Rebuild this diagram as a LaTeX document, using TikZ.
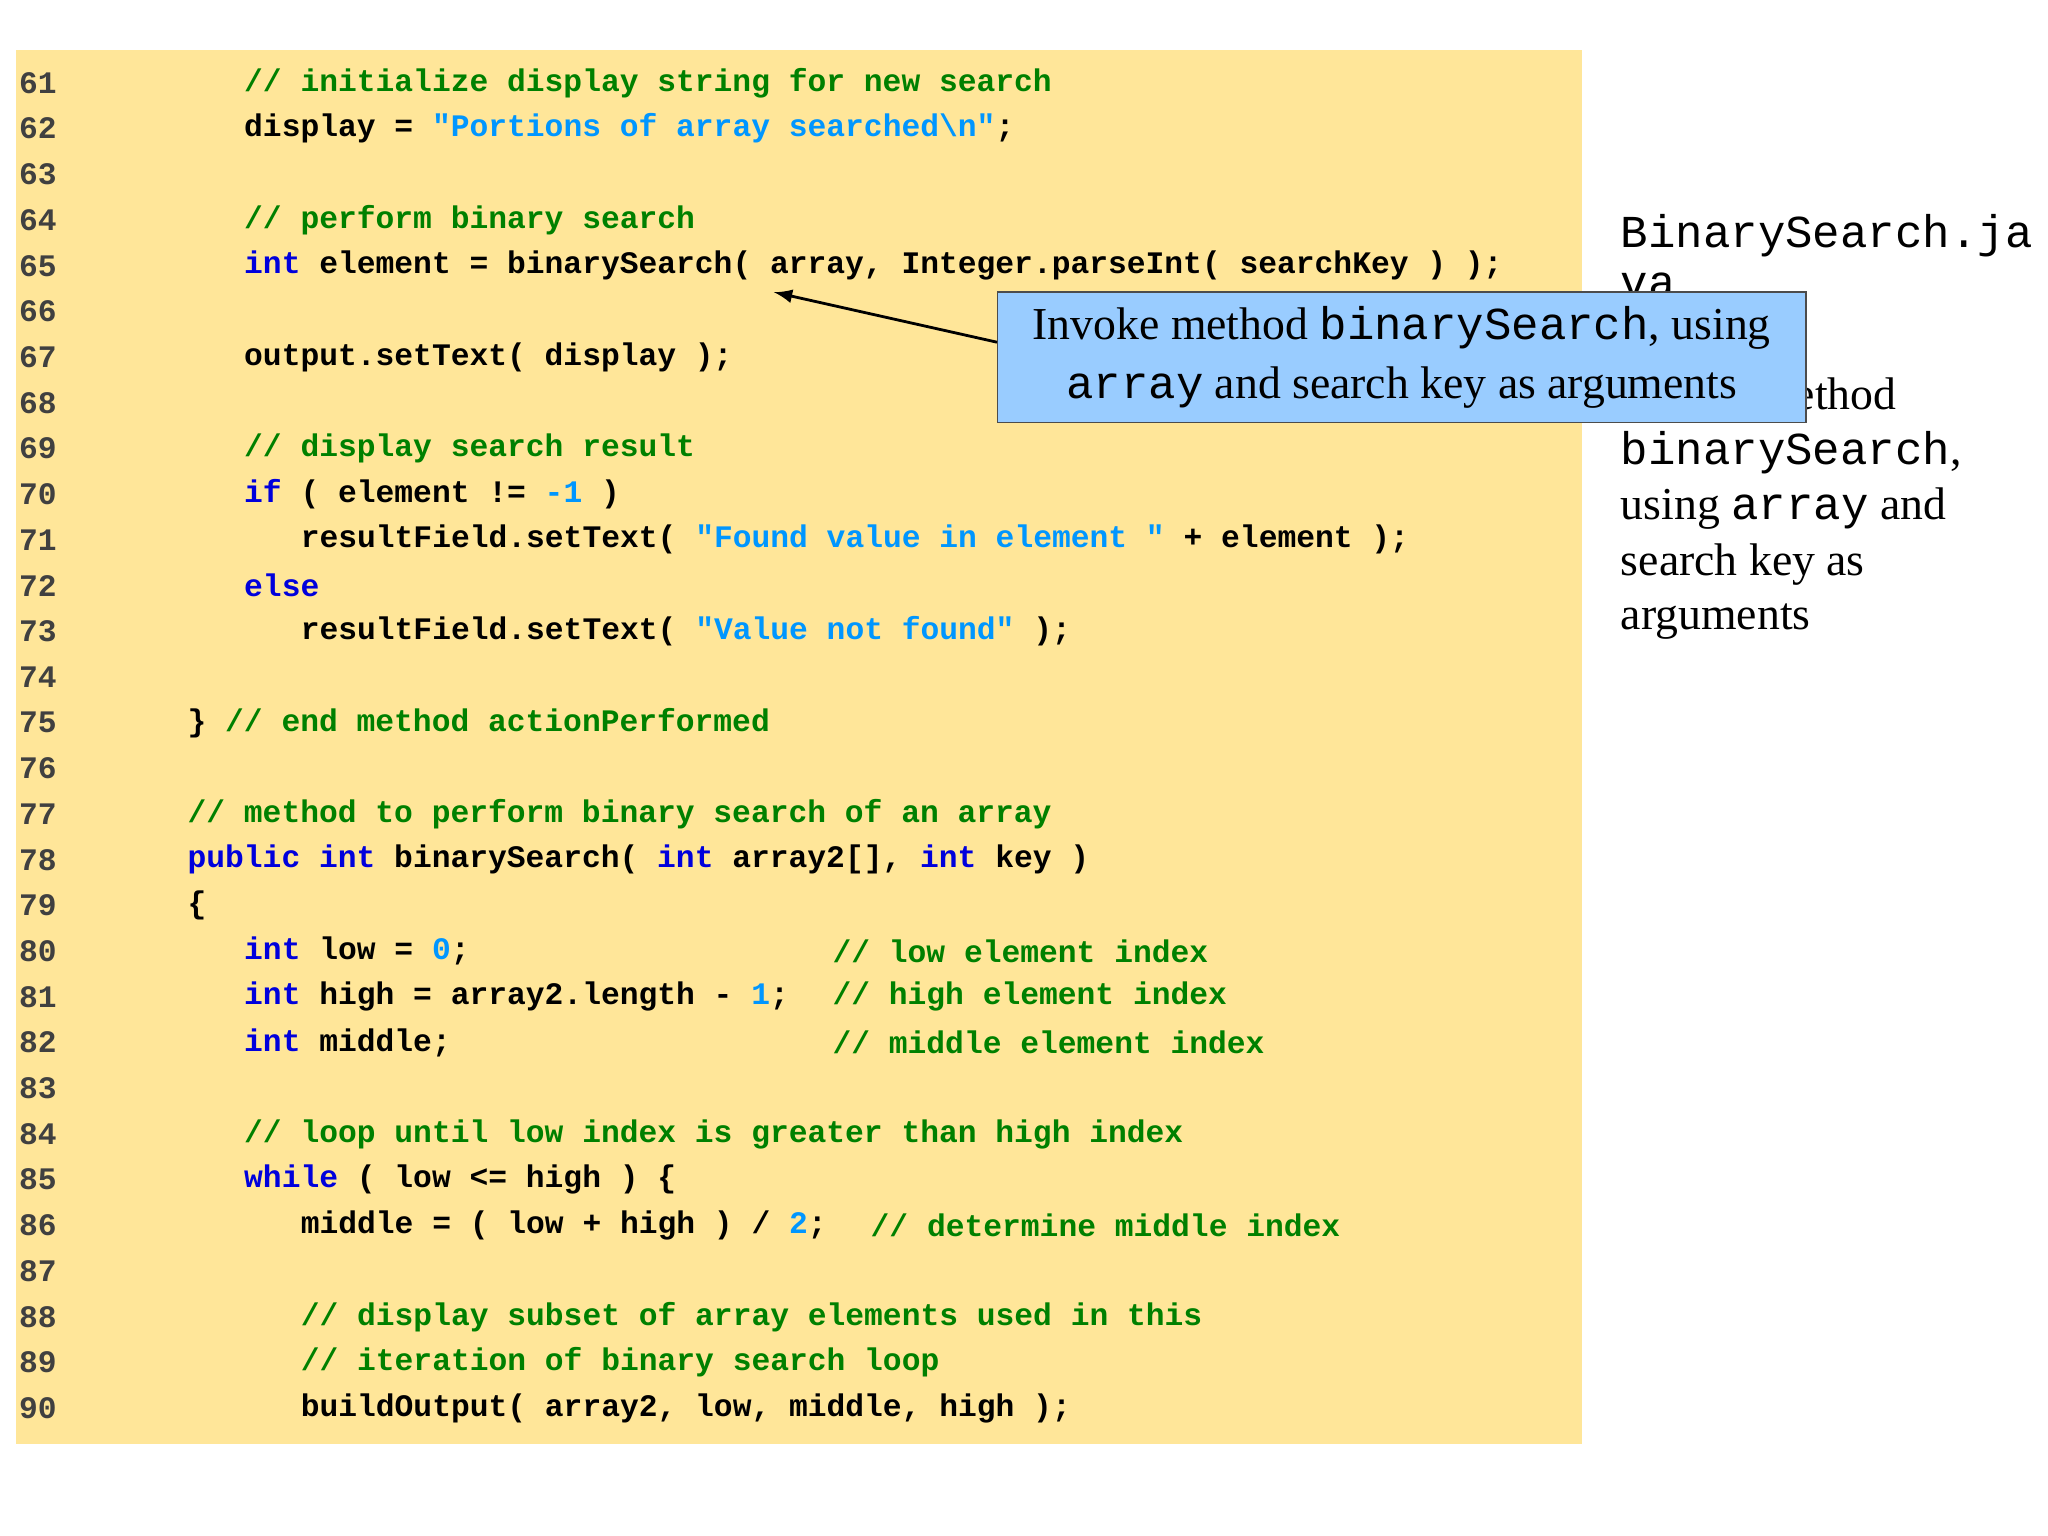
\documentclass[tikz,border=0pt]{standalone}
\usepackage{fontspec}
\setmainfont{Liberation Serif}
\setmonofont{Liberation Mono}
\usepackage{xcolor}
\definecolor{codebg}{RGB}{255,230,153}
\definecolor{cmtgreen}{RGB}{0,128,0}
\definecolor{kwblue}{RGB}{0,0,220}
\definecolor{strblue}{RGB}{0,150,255}
\definecolor{callbg}{RGB}{153,204,255}
\newcommand{\kw}[1]{\textcolor{kwblue}{#1}}
\newcommand{\cm}[1]{\textcolor{cmtgreen}{#1}}
\newcommand{\st}[1]{\textcolor{strblue}{#1}}
% one code line: number, x of first char, text
\newcommand{\codeline}[3]{%
  \node[linenum] (n#1) at (14,{63+(#1-61)*34.72}) {#1};
  \node[codetext] (l#1) at (#2,{63+(#1-61)*34.72}) {#3};}

\begin{document}
\begin{tikzpicture}[x=0.01316cm, y=-0.01316cm,
    linenum/.style={anchor=west, inner sep=0pt, font=\ttfamily\bfseries\fontsize{8.9}{10}\selectfont, text=black!75},
    codetext/.style={anchor=west, inner sep=0pt, font=\ttfamily\bfseries\fontsize{8.9}{10}\selectfont},
    sidetext/.style={anchor=base west, inner sep=0pt, font=\fontsize{13}{15}\selectfont},
    callout/.style={draw=black!70, fill=callbg, align=center, font=\fontsize{13}{17}\selectfont, minimum width=614*0.01316cm, minimum height=99*0.01316cm}]

\useasboundingbox (0,0) rectangle (1556,1167);
\fill[codebg] (12,38) rectangle (1202,1097);

% code lines
\codeline{61}{185}{\cm{// initialize display string for new search}}
\codeline{62}{185}{display = \st{"Portions of array searched\textbackslash n"};}
\node[linenum] (n63) at (14,{63+2*34.72}) {63};
\codeline{64}{185}{\cm{// perform binary search}}
\codeline{65}{185}{\kw{int} element = binarySearch( array, Integer.parseInt( searchKey ) );}
\node[linenum] (n66) at (14,{63+5*34.72}) {66};
\codeline{67}{185}{output.setText( display );}
\node[linenum] (n68) at (14,{63+7*34.72}) {68};
\codeline{69}{185}{\cm{// display search result}}
\codeline{70}{185}{\kw{if} ( element != \st{-1} )}
\codeline{71}{228}{resultField.setText( \st{"Found value in element "} + element );}
\codeline{72}{185}{\kw{else}}
\codeline{73}{228}{resultField.setText( \st{"Value not found"} );}
\node[linenum] (n74) at (14,{63+13*34.72}) {74};
\codeline{75}{142}{\} \cm{// end method actionPerformed}}
\node[linenum] (n76) at (14,{63+15*34.72}) {76};
\codeline{77}{142}{\cm{// method to perform binary search of an array}}
\codeline{78}{142}{\kw{public} \kw{int} binarySearch( \kw{int} array2[], \kw{int} key )}
\codeline{79}{142}{\{}
\codeline{80}{185}{\kw{int} low = \st{0};}
\codeline{81}{185}{\kw{int} high = array2.length - \st{1};}
\codeline{82}{185}{\kw{int} middle;}
\node[codetext] (c80) at (632,{63+19*34.72}) {\cm{// low element index}};
\node[codetext] (c81) at (632,{63+20*34.72}) {\cm{// high element index}};
\node[codetext] (c82) at (632,{63+21*34.72}) {\cm{// middle element index}};
\node[linenum] (n83) at (14,{63+22*34.72}) {83};
\codeline{84}{185}{\cm{// loop until low index is greater than high index}}
\codeline{85}{185}{\kw{while} ( low <= high ) \{}
\codeline{86}{228}{middle = ( low + high ) / \st{2};}
\node[codetext] (c86) at (661,{63+25*34.72}) {\cm{// determine middle index}};
\node[linenum] (n87) at (14,{63+26*34.72}) {87};
\codeline{88}{228}{\cm{// display subset of array elements used in this}}
\codeline{89}{228}{\cm{// iteration of binary search loop}}
\codeline{90}{228}{buildOutput( array2, low, middle, high );}

% side notes
\node[sidetext] (file1) at (1231,188) {\ttfamily BinarySearch.ja};
\node[sidetext] (file2) at (1231,226) {\ttfamily va};
\node[sidetext] (note1) at (1231,311) {Invoke method};
\node[sidetext] (note2) at (1231,353) {\ttfamily binarySearch\rmfamily,};
\node[sidetext] (note3) at (1231,395) {using \texttt{array} and};
\node[sidetext] (note4) at (1231,437) {search key as};
\node[sidetext] (note5) at (1231,478) {arguments};

% callout
\node[callout] (call) at (1065,271.5) {Invoke method \texttt{binarySearch}, using\\ \texttt{array} and search key as arguments};
\coordinate (tip) at (588,222);
\draw[-latex, thick] (call.west |- 0,260) -- (tip);

\end{tikzpicture}
\end{document}
